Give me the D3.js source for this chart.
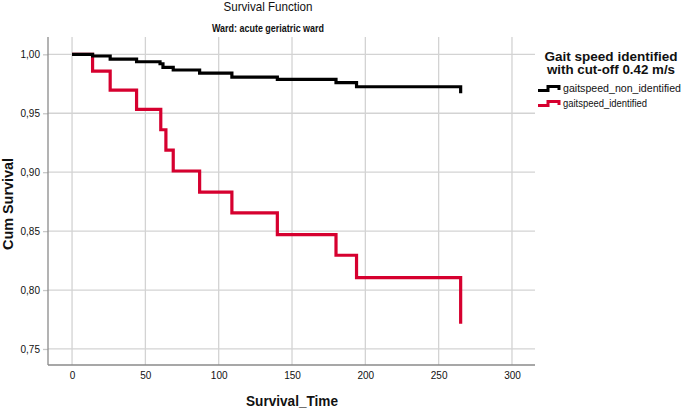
<!DOCTYPE html>
<html>
<head>
<meta charset="utf-8">
<script src="https://cdn.jsdelivr.net/npm/d3@7"></script>
<style>
  body { margin: 0; background: #fff; }
  text { font-family: "Liberation Sans", Arial, sans-serif; fill: #111; }
</style>
</head>
<body>
<div id="chart"></div>
<script>
// survival data
var timesNon = [0, 14, 26, 44, 60, 62, 69, 87, 109, 140, 180, 194, 265];
var survNon = [1, 0.9986, 0.996, 0.9937, 0.992, 0.989, 0.9867, 0.984, 0.9807, 0.9788, 0.976, 0.9725, 0.967];

var timesId = [0, 14, 26, 44, 60.5, 64, 69, 87, 109, 140, 180, 194, 265];
var survId = [1, 0.9858, 0.9697, 0.9533, 0.936, 0.9187, 0.901, 0.883, 0.8655, 0.847, 0.8295, 0.8106, 0.7714];

var xTicks = [0, 50, 100, 150, 200, 250, 300];
var yTicks = [0.75, 0.80, 0.85, 0.90, 0.95, 1.00];

var seriesNames = ["gaitspeed_non_identified", "gaitspeed_identified"];
var seriesColors = ["#000000", "#d6002f"];

var width = 685, height = 409;
var plotL = 48, plotR = 535, plotT = 37, plotB = 365;

var svg = d3.select("#chart").append("svg")
  .attr("width", width)
  .attr("height", height);

var x = d3.scaleLinear().domain([-16.4, 315.7]).range([plotL, plotR]);
var y = d3.scaleLinear().domain([0.7364, 1.0147]).range([plotB, plotT]);

// grid
svg.append("g").selectAll("line")
  .data(xTicks).enter().append("line")
  .attr("x1", function (d) { return x(d); })
  .attr("x2", function (d) { return x(d); })
  .attr("y1", plotT).attr("y2", plotB)
  .attr("stroke", "#d3d3d3").attr("stroke-width", 1.3);

svg.append("g").selectAll("line")
  .data(yTicks).enter().append("line")
  .attr("x1", plotL).attr("x2", plotR)
  .attr("y1", function (d) { return y(d); })
  .attr("y2", function (d) { return y(d); })
  .attr("stroke", "#d3d3d3").attr("stroke-width", 1.3);

// axes
var fmt = function (d) { return d3.format(".2f")(d).replace(".", ","); };

var yAxis = svg.append("g")
  .attr("transform", "translate(" + plotL + ",0)")
  .call(d3.axisLeft(y).tickValues(yTicks).tickFormat(fmt).tickSize(5).tickPadding(3));
yAxis.select(".domain").remove();
yAxis.selectAll(".tick line").attr("stroke", "#c8c8c8").attr("stroke-width", 1.3);
yAxis.selectAll("text").style("font-size", "10px").attr("fill", "#222");

var xAxis = svg.append("g")
  .attr("transform", "translate(0," + plotB + ")")
  .call(d3.axisBottom(x).tickValues(xTicks).tickSize(0).tickPadding(7));
xAxis.select(".domain").remove();
xAxis.selectAll("text").style("font-size", "10px").attr("fill", "#222");

svg.append("line")
  .attr("x1", plotL).attr("x2", plotL).attr("y1", plotT).attr("y2", plotB)
  .attr("stroke", "#8a8a8a").attr("stroke-width", 1.3);
svg.append("line")
  .attr("x1", plotL).attr("x2", plotR).attr("y1", plotB).attr("y2", plotB)
  .attr("stroke", "#8a8a8a").attr("stroke-width", 1.3);

// survival step lines
var line = d3.line()
  .x(function (d) { return x(d[0]); })
  .y(function (d) { return y(d[1]); })
  .curve(d3.curveStepAfter);

var series = [d3.zip(timesNon, survNon), d3.zip(timesId, survId)];

svg.selectAll("path.km")
  .data([1, 0])
  .enter().append("path")
  .attr("class", "km")
  .attr("d", function (k) { return line(series[k]); })
  .attr("fill", "none")
  .attr("stroke", function (k) { return seriesColors[k]; })
  .attr("stroke-width", 3.2)
  .attr("stroke-linejoin", "miter");

// titles
svg.append("text")
  .attr("x", 268).attr("y", 11)
  .attr("text-anchor", "middle")
  .attr("textLength", 89).attr("lengthAdjust", "spacingAndGlyphs")
  .style("font-size", "13px")
  .text("Survival Function");

svg.append("text")
  .attr("x", 268).attr("y", 32)
  .attr("text-anchor", "middle")
  .attr("textLength", 112).attr("lengthAdjust", "spacingAndGlyphs")
  .style("font-size", "11px").style("font-weight", "bold")
  .text("Ward: acute geriatric ward");

svg.append("text")
  .attr("transform", "translate(13,204) rotate(-90)")
  .attr("text-anchor", "middle")
  .attr("textLength", 92).attr("lengthAdjust", "spacingAndGlyphs")
  .style("font-size", "14px").style("font-weight", "bold")
  .text("Cum Survival");

svg.append("text")
  .attr("x", 292).attr("y", 406)
  .attr("text-anchor", "middle")
  .attr("textLength", 92).attr("lengthAdjust", "spacingAndGlyphs")
  .style("font-size", "14px").style("font-weight", "bold")
  .text("Survival_Time");

// legend
var legendTitle = ["Gait speed identified", "with cut-off 0.42 m/s"];
var legendTitleLen = [133, 128];
svg.selectAll("text.lt")
  .data(legendTitle).enter().append("text")
  .attr("class", "lt")
  .attr("x", 611).attr("y", function (d, i) { return 61 + i * 13; })
  .attr("text-anchor", "middle")
  .attr("textLength", function (d, i) { return legendTitleLen[i]; })
  .attr("lengthAdjust", "spacingAndGlyphs")
  .style("font-size", "12px").style("font-weight", "bold")
  .text(function (d) { return d; });

var legendLen = [118, 84];
var items = svg.selectAll("g.li")
  .data(seriesNames).enter().append("g")
  .attr("class", "li")
  .attr("transform", function (d, i) { return "translate(538," + (88 + i * 15) + ")"; });

items.append("path")
  .attr("d", "M0,2.5 H10 V-1.5 H21 V2")
  .attr("fill", "none")
  .attr("stroke", function (d, i) { return seriesColors[i]; })
  .attr("stroke-width", 3);

items.append("text")
  .attr("x", 25).attr("y", 3.5)
  .attr("textLength", function (d, i) { return legendLen[i]; })
  .attr("lengthAdjust", "spacingAndGlyphs")
  .style("font-size", "10.5px")
  .text(function (d) { return d; });
</script>
</body>
</html>
